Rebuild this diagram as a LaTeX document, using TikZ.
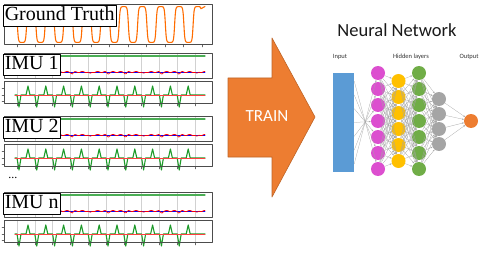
\documentclass[tikz,border=0pt]{standalone}
\usepackage{fontspec}
\setmainfont{Liberation Serif}
\newfontfamily\calibri{Carlito}
\usetikzlibrary{calc,arrows.meta}

\begin{document}
\begin{tikzpicture}[x=1pt, y=-1pt, line cap=round, line join=round]
  \tikzset{
    frame/.style={line width=0.6pt, draw=black!70},
    label/.style={draw=black, line width=0.6pt, fill=white, inner sep=1.5pt, anchor=north west,
      text height=14pt, text depth=4pt, font=\fontsize{20pt}{22pt}\selectfont},
    grid/.style={line width=0.3pt, draw=black!18},
    tick/.style={line width=0.4pt, draw=black!60},
    gtwave/.style={line width=1.1pt, draw=orange!85!red},
    neuron/.style={circle, minimum size=14pt, inner sep=0pt},
    link/.style={line width=0.25pt, draw=black!35, -{Stealth[length=2pt, width=1.5pt]}},
    small/.style={font=\calibri\fontsize{6.5pt}{7pt}\selectfont, text=black!80}
  }
  \definecolor{nnblue}{HTML}{5B9BD5}
  \definecolor{nnpink}{HTML}{DC4FCF}
  \definecolor{nnyellow}{HTML}{FFC000}
  \definecolor{nngreen}{HTML}{70AD47}
  \definecolor{nngray}{HTML}{A5A5A5}
  \definecolor{nnorange}{HTML}{ED7D31}
  \definecolor{plotgreen}{HTML}{1E9A2A}

  \useasboundingbox (0,0) rectangle (485,254);

  % Ground truth plot
  \foreach \k in {0,...,10}
    \draw[tick] ({17+18.5*\k},45) -- ({17+18.5*\k},47);
  \draw[frame] (4,4) rectangle (212,44);
  \draw[gtwave] plot[domain=15:201, samples=400] (\x, {24.5-18*tanh(3*cos(19.459*(\x-12.75)))}) -- (205,6.5);
  \node[label] (gt) at (3,5) {Ground Truth};

  % IMU plots
  \foreach \gy/\lab/\nm in {53/IMU 1/imuA, 116/IMU 2/imuB, 192/IMU n/imuN}{
    % upper panel
    \foreach \k in {0,...,10}{
      \draw[grid] ({17+17.8*\k},\gy) -- ({17+17.8*\k},\gy+25);
      \draw[grid] ({17+17.8*\k},\gy+28) -- ({17+17.8*\k},\gy+50);
      \draw[tick] ({17+17.8*\k},\gy+51) -- ({17+17.8*\k},\gy+53);
    }
    \draw[line width=1.3pt, draw=plotgreen!80] (55,\gy+3) -- (205,\gy+3);
    \draw[line width=0.9pt, draw=blue] (15,\gy+19) -- (205,\gy+19);
    \draw[line width=0.7pt, draw=red] plot[domain=15:205, samples=160]
      (\x, {\gy+19+0.6*sin(47*\x)+1.8*abs(cos(10.112*(\x-19)))^30});
    \draw[frame] (4,\gy) rectangle (212,\gy+25);
    % lower panel
    \draw[tick] (2,\gy+35) -- (4,\gy+35);
    \draw[tick] (2,\gy+42) -- (4,\gy+42);
    \draw[tick] (2,\gy+48) -- (4,\gy+48);
    \draw[line width=1.1pt, draw=plotgreen] (15,\gy+42)
      \foreach \k in {0,...,9}{
        -- ({19+17.8*\k-2},\gy+42) -- ({19+17.8*\k},\gy+54) -- ({19+17.8*\k+2},\gy+42)
        -- ({28+17.8*\k-2},\gy+42) -- ({28+17.8*\k},\gy+33) -- ({28+17.8*\k+2},\gy+42)
      } -- (205,\gy+42);
    \draw[line width=0.9pt, draw=red!75] (15,\gy+42) -- (205,\gy+42);
    \draw[frame] (4,\gy+28) rectangle (212,\gy+50);
    \node[label] (\nm) at (3,\gy+1) {\lab};
  }
  \node[font=\fontsize{12pt}{12pt}\selectfont] (dots) at (13,178) {...};

  % Train arrow
  \draw[line width=0.6pt, draw=nnorange!80!black, fill=nnorange]
    (228,78) -- (272,78) -- (272,38) -- (315,117) -- (272,197) -- (272,157) -- (228,157) -- cycle;
  \node[font=\calibri\fontsize{17pt}{19pt}\selectfont, text=white] (train) at (267,116) {TRAIN};

  % Neural network
  \node[font=\calibri\fontsize{18.5pt}{20pt}\selectfont, text=black!90] (title) at (397,30) {Neural Network};
  \node[small] (lin) at (340,57) {Input};
  \node[small] (lhid) at (411,57) {Hidden layers};
  \node[small] (lout) at (469,57) {Output};

  \node[fill=nnblue, minimum width=21pt, minimum height=99pt, inner sep=0pt] (inp) at (343.5,122.5) {};
  \foreach \i in {1,...,7}
    \node[neuron, fill=nnpink] (m\i) at (378,{73+16*(\i-1)}) {};
  \foreach \i in {1,...,6}
    \node[neuron, fill=nnyellow] (y\i) at (398.5,{81+16*(\i-1)}) {};
  \foreach \i in {1,...,7}
    \node[neuron, fill=nngreen] (g\i) at (419,{73+16*(\i-1)}) {};
  \foreach \i in {1,...,4}
    \node[neuron, fill=nngray] (h\i) at (439,{99+15*(\i-1)}) {};
  \node[neuron, fill=nnorange] (out) at (471,121) {};

  % Connections
  \foreach \i in {1,...,7}
    \draw[link] ($(inp.east)!{(\i-4)/3.6}!(inp.north east)$) -- (m\i);
  \foreach \i in {1,...,7}
    \foreach \j in {1,...,6}
      \draw[link] (m\i) -- (y\j);
  \foreach \i in {1,...,6}
    \foreach \j in {1,...,7}
      \draw[link] (y\i) -- (g\j);
  \foreach \i in {1,...,7}
    \foreach \j in {1,...,4}
      \draw[link] (g\i) -- (h\j);
  \foreach \i in {1,...,4}
    \draw[link] (h\i) -- (out);

\end{tikzpicture}
\end{document}
